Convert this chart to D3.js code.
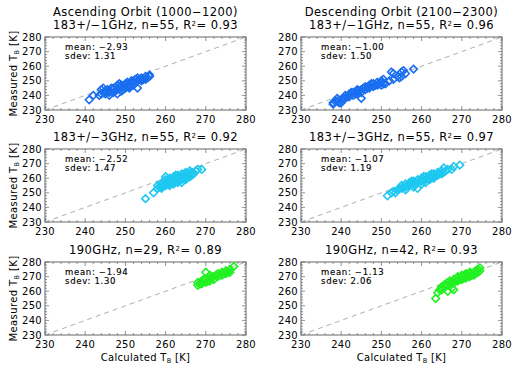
<!DOCTYPE html>
<html><head><meta charset="utf-8">
<script src="https://cdn.jsdelivr.net/npm/d3@7"></script>
<style>body{margin:0;background:#fff}svg{display:block}text{font-family:"DejaVu Sans",Arial,sans-serif}</style>
</head><body>
<script>
// ---- data ----
const ticks = [230, 240, 250, 260, 270, 280];
const panelTitles = [
  ["Ascending Orbit (1000\u22121200)", "183+/\u22121GHz, n=55, R", "0.93"],
  ["Descending Orbit (2100\u22122300)", "183+/\u22121GHz, n=55, R", "0.96"],
  ["183+/\u22123GHz, n=55, R", "0.92"],
  ["183+/\u22123GHz, n=55, R", "0.97"],
  ["190GHz, n=29, R", "0.89"],
  ["190GHz, n=42, R", "0.93"]
];
const means = ["\u22122.93", "\u22121.00", "\u22122.52", "\u22121.07", "\u22121.94", "\u22121.13"];
const sdevs = ["1.31", "1.50", "1.47", "1.19", "1.30", "2.06"];
const colors = ["#1a6ef0", "#1a6ef0", "#1ec8f0", "#1ec8f0", "#22f022", "#22f022"];

const asc1 = [[241,237],[242,240],[243.5,240],[244,241],[244,244],[244.5,242],[245,243],[245,241],[245.5,244],[246,242],[246,243],[246.5,245],[247,242],[247,244],[247,245],[247.5,243],[248,241],[248,244],[248,247],[248.5,246],[248.5,248],[249,243],[249,245],[249,247],[249.5,244],[249.5,246],[250,245],[250,247],[250,248],[250.5,246],[250.5,249],[251,246],[251,247],[251,248],[251.5,250],[252,247],[252,249],[252,250],[252.5,251],[253,245],[253,250],[253,252],[253.5,251],[254,250],[254,251],[254,252],[254.5,251],[255,251],[255,253],[255.5,252],[256,253],[256,254],[246,240],[244.5,245],[251,245]];
const desc1 = [[238,234],[238,235],[238.5,236],[239,236],[239,238],[239.5,235],[240,235],[240,237],[240.5,238],[241,238],[241,240],[241.5,239],[242,239],[242,241],[242.5,242],[243,240],[243,242],[243.5,241],[244,241],[244,243],[244,244],[244.5,243],[245,238],[245,242],[245,244],[245.5,245],[246,244],[246,246],[246.5,245],[247,245],[247,247],[247.5,248],[248,246],[248,248],[248.5,247],[249,247],[249,249],[249.5,248],[250,247],[250,249],[250,250],[250.5,248],[250.5,251],[251,248],[252,250],[252.5,256],[253,251],[253,255],[254,253],[254.5,252],[255,253],[255,256],[255.5,257],[256,255],[258,258]];
const asc3 = [[255,246],[257,250],[258,253],[258,255],[258.5,254],[259,254],[259,256],[259.5,258],[259.5,255],[260,255],[260,257],[260,259],[260,261],[260.5,256],[260.5,258],[261,256],[261,258],[261,260],[261.5,257],[261.5,259],[262,257],[262,259],[262,261],[262.5,260],[262.5,262],[263,258],[263,260],[263,262],[263.5,261],[263.5,259],[264,259],[264,261],[264,263],[264.5,262],[264.5,260],[265,260],[265,262],[265,264],[265.5,263],[265.5,261],[266,261],[266,263],[266,265],[266.5,264],[264,257],[265,259],[262,256],[261,255],[263,257],[259,253],[266.5,262],[267,263],[267.5,265],[268,266],[269,266]];
const desc3 = [[251.5,248],[252.5,250],[253,251],[254,252],[254.5,253],[255,253],[255,255],[255.5,254],[256,254],[256,256],[256.5,255],[257,255],[257,257],[257.5,256],[257.5,258],[258,256],[258,258],[258.5,257],[259,253],[259,257],[259,259],[259.5,258],[260,258],[260,260],[260.5,259],[260.5,261],[261,259],[261,261],[261.5,260],[262,260],[262,262],[262.5,261],[262.5,263],[263,261],[263,263],[263.5,262],[264,262],[264,264],[264.5,263],[265,263],[265,265],[265.5,264],[265.5,267],[266,265],[266.5,266],[267.5,266],[268,268],[269.5,269],[253.5,250],[256,252],[258,254],[260,256],[262,259],[261,257],[263,260]];
const asc190 = [[268,264],[268,266],[268.5,265],[269,265],[269,267],[269.5,268],[270,266],[270,268],[270,273],[270.5,267],[271,267],[271,269],[271,271],[271.5,270],[272,268],[272,270],[272.5,271],[273,270],[273,272],[273.5,271],[274,271],[274,273],[274.5,272],[275,272],[275,274],[275.5,273],[276,273],[276,275],[277,277]];
const desc190 = [[263.5,255],[264,259],[264.5,261],[265,261],[265,263],[265.5,264],[266,263],[266,265],[266.5,260],[266.5,266],[267,265],[267,267],[267.5,262],[267.5,266],[268,261],[268,266],[268,268],[268.5,267],[269,267],[269,269],[269.5,268],[270,268],[270,270],[270.5,269],[271,269],[271,271],[271.5,270],[272,270],[272,272],[272.5,271],[273,271],[273,273],[273.5,272],[273.5,274],[274,273],[274,275],[274.5,276],[274.5,274],[270,271],[272,273],[271,272],[269,270]];
const datasets = [asc1, desc1, asc3, desc3, asc190, desc190];

// ---- layout ----
const W = 513, H = 382;
const colX = [45, 301], pw = 201;
const rowY = [37, 149, 262], ph = 73;
const svg = d3.select("body").append("svg").attr("width", W).attr("height", H);

function diamond(r) { return `M0,${-r}L${r},0L0,${r}L${-r},0Z`; }

datasets.forEach((data, i) => {
  const col = i % 2, row = Math.floor(i / 2);
  const x0 = colX[col], y0 = rowY[row];
  const x = d3.scaleLinear().domain([230, 280]).range([x0, x0 + pw]);
  const y = d3.scaleLinear().domain([230, 280]).range([y0 + ph, y0]);
  const g = svg.append("g");

  // minor + major ticks (inward, all sides)
  const minor = d3.range(230, 280.1, 2);
  const tk = g.append("g").attr("stroke", "#777").attr("stroke-width", 0.8);
  minor.forEach(v => {
    const major = ticks.includes(v);
    const L = major ? 4 : 2;
    tk.append("line").attr("x1", x(v)).attr("x2", x(v)).attr("y1", y0 + ph).attr("y2", y0 + ph - L);
    tk.append("line").attr("x1", x(v)).attr("x2", x(v)).attr("y1", y0).attr("y2", y0 + L);
    tk.append("line").attr("y1", y(v)).attr("y2", y(v)).attr("x1", x0).attr("x2", x0 + L);
    tk.append("line").attr("y1", y(v)).attr("y2", y(v)).attr("x1", x0 + pw).attr("x2", x0 + pw - L);
  });
  g.append("rect").attr("x", x0).attr("y", y0).attr("width", pw).attr("height", ph)
    .attr("fill", "none").attr("stroke", "#666").attr("stroke-width", 1);

  // tick labels
  ticks.forEach(v => {
    g.append("text").attr("x", x(v)).attr("y", y0 + ph + 13).attr("text-anchor", "middle")
      .attr("font-size", 10).attr("letter-spacing", 0.3).text(v);
    g.append("text").attr("x", x0 - 3).attr("y", y(v) + 3.5).attr("text-anchor", "end")
      .attr("font-size", 10).attr("letter-spacing", 0.3).text(v);
  });

  // 1:1 dashed line
  g.append("line").attr("x1", x(230)).attr("y1", y(230)).attr("x2", x(280)).attr("y2", y(280))
    .attr("stroke", "#999").attr("stroke-width", 0.8).attr("stroke-dasharray", "5,4");

  // points
  g.append("g").selectAll("path").data(data).join("path")
    .attr("transform", d => `translate(${x(d[0])},${y(d[1])})`)
    .attr("d", diamond(3.8)).attr("fill", "none")
    .attr("stroke", colors[i]).attr("stroke-width", 1.6);

  // mean / sdev
  g.append("text").attr("x", x0 + 20).attr("y", y0 + 13).attr("font-size", 8.5).attr("letter-spacing", 0.7)
    .attr("stroke", "#000").attr("stroke-width", 0.15).text("mean: " + means[i]);
  g.append("text").attr("x", x0 + 20).attr("y", y0 + 21.5).attr("font-size", 8.5).attr("letter-spacing", 0.7)
    .attr("stroke", "#000").attr("stroke-width", 0.15).text("sdev: " + sdevs[i]);

  // titles
  const t = panelTitles[i];
  const cx = x0 + pw / 2;
  const base = y0 - 8;
  const tl = g.append("text").attr("x", cx).attr("y", base).attr("text-anchor", "middle")
    .attr("font-size", 11.5).attr("letter-spacing", 0.45);
  tl.append("tspan").text(t[t.length - 2]);
  tl.append("tspan").attr("dy", -3.5).attr("font-size", 7).text("2");
  tl.append("tspan").attr("dy", 3.5).text("= " + t[t.length - 1]);
  if (t.length === 3) {
    g.append("text").attr("x", cx).attr("y", base - 13).attr("text-anchor", "middle")
      .attr("font-size", 11.5).attr("letter-spacing", 0.45).text(t[0]);
  }

  // axis labels
  if (col === 0) {
    const yl = g.append("text").attr("transform", `translate(17,${y0 + ph / 2}) rotate(-90)`)
      .attr("text-anchor", "middle").attr("font-size", 10).attr("letter-spacing", 0.4);
    yl.append("tspan").text("Measured T");
    yl.append("tspan").attr("dy", 2).attr("font-size", 6.5).text("B");
    yl.append("tspan").attr("dy", -2).text(" [K]");
  }
  if (row === 2) {
    const xl = g.append("text").attr("x", cx).attr("y", y0 + ph + 26).attr("text-anchor", "middle")
      .attr("font-size", 10).attr("letter-spacing", 0.3);
    xl.append("tspan").text("Calculated T");
    xl.append("tspan").attr("dy", 2).attr("font-size", 6.5).text("B");
    xl.append("tspan").attr("dy", -2).text(" [K]");
  }
});
</script>
</body></html>
